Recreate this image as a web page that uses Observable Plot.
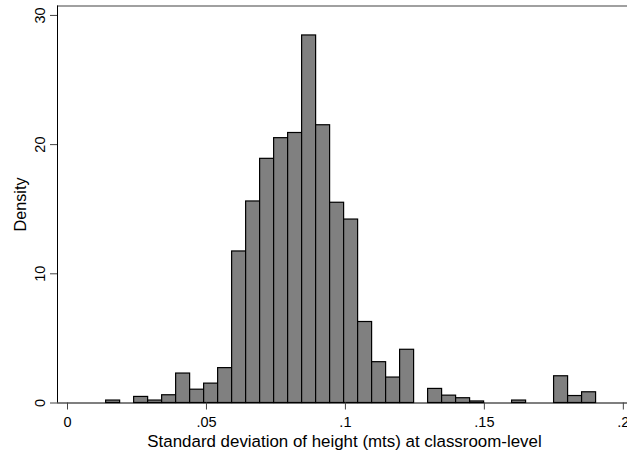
<!DOCTYPE html>
<html>
<head>
<meta charset="utf-8">
<script src="https://cdn.jsdelivr.net/npm/d3@7"></script>
<script src="https://cdn.jsdelivr.net/npm/@observablehq/plot@0.6"></script>
<style>
  html, body { margin: 0; padding: 0; background: white; overflow: hidden; }
  #chart svg { display: block; }
</style>
</head>
<body>
<div id="chart"></div>
<script>
// Histogram bins (Stata-style: start at data minimum, equal widths)
const binStart = 0.0139;
const binWidth = 0.005037;
const densities = [0.19, 0, 0.47, 0.19, 0.6, 2.28, 1.03, 1.5, 2.7, 11.73,
  15.6, 18.9, 20.5, 20.9, 28.45, 21.5, 15.5, 14.2, 6.27, 3.16,
  1.97, 4.12, 0, 1.09, 0.57, 0.37, 0.12, 0, 0, 0.19,
  0, 0, 2.07, 0.54, 0.83];
const xTicks = [0, 0.05, 0.1, 0.15, 0.2];
const xTickLabels = ["0", ".05", ".1", ".15", ".2"];
const yTicks = [0, 10, 20, 30];
const xTitle = "Standard deviation of height (mts) at classroom-level";
const yTitle = "Density";
const xDomain = [-0.0036, 0.2015];
const yDomain = [0, 30.73];

const bins = densities.map((d, i) => ({
  x1: binStart + i * binWidth,
  x2: binStart + (i + 1) * binWidth,
  density: d
})).filter(b => b.density > 0);

const font = "'Liberation Sans', Arial, Helvetica, sans-serif";

const chart = Plot.plot({
  width: 627,
  height: 451,
  marginLeft: 57,
  marginRight: 0,
  marginTop: 5.5,
  marginBottom: 48.5,
  style: { fontFamily: font, fontSize: "14.5px", color: "black", background: "white" },
  x: { domain: xDomain },
  y: { domain: yDomain },
  marks: [
    Plot.rectY(bins, {x1: "x1", x2: "x2", y: "density", fill: "#808080", stroke: "black", strokeWidth: 1.2}),
    Plot.ruleY([yDomain[1]], {stroke: "#808080", strokeWidth: 1.6}),
    Plot.ruleX([xDomain[0]], {stroke: "black", strokeWidth: 1}),
    Plot.ruleY([0], {stroke: "black", strokeWidth: 1.2}),
    Plot.axisX({ticks: xTicks, tickFormat: (d) => xTickLabels[xTicks.indexOf(d)], tickSize: 7, tickPadding: 7, stroke: "#444", fill: "black", fontSize: 14.5, label: null}),
    Plot.axisY({ticks: yTicks, tickSize: 7, tickPadding: 6, tickRotate: -90, stroke: "#444", fill: "black", fontSize: 14.5, label: null}),
    Plot.text([xTitle], {frameAnchor: "bottom", textAnchor: "middle", lineAnchor: "bottom", dx: 2, dy: 44, fontSize: 16.9, fill: "black"}),
    Plot.text([yTitle], {frameAnchor: "left", textAnchor: "middle", lineAnchor: "middle", dx: -37, rotate: -90, fontSize: 16.2, fill: "black"})
  ]
});
document.getElementById("chart").appendChild(chart);
</script>
</body>
</html>
